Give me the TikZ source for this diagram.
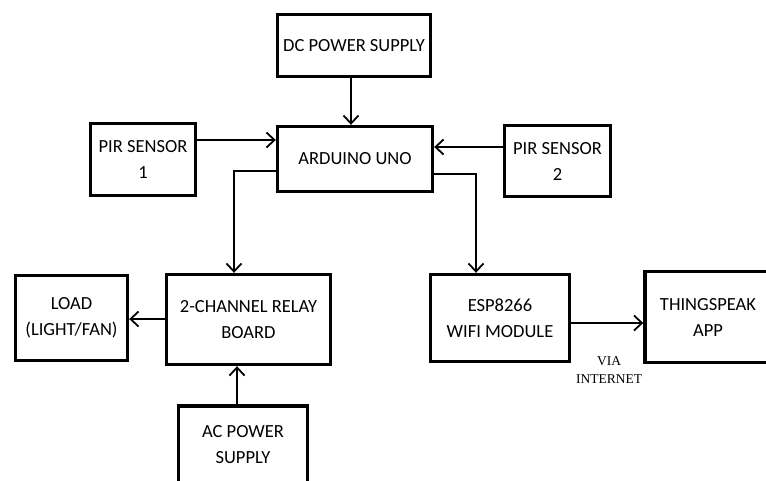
\documentclass[tikz,border=0pt]{standalone}
\usepackage{fontspec}
\setmainfont{Carlito}
\newfontfamily\viafont{Liberation Serif}
\usetikzlibrary{arrows.meta}
\begin{document}
\begin{tikzpicture}[x=1pt,y=-1pt,
  blk/.style={draw, line width=3.4pt, align=center, inner sep=0pt,
    font=\fontsize{18.5}{26}\selectfont},
  arr/.style={line width=1.8pt, -{Straight Barb[length=8pt,width=15pt]}},
  lnk/.style={line width=1.8pt}]
\useasboundingbox (0,0) rectangle (766,480);
\clip (0,0) rectangle (766,480);
\fill[white] (0,0) rectangle (766,480);
% boxes
\node[blk, minimum width=153pt, minimum height=62pt] (dc) at (354,45.5) {DC POWER SUPPLY};
\node[blk, minimum width=155pt, minimum height=65pt] (ard) at (355,159) {ARDUINO UNO};
\node[blk, minimum width=105pt, minimum height=72pt] (pir1) at (143,159.5) {PIR SENSOR\\1};
\node[blk, minimum width=106pt, minimum height=71pt] (pir2) at (557.5,161) {PIR SENSOR\\2};
\node[blk, minimum width=112pt, minimum height=85pt] (load) at (71.5,318) {LOAD\\(LIGHT/FAN)};
\node[blk, minimum width=164pt, minimum height=90pt] (relay) at (248.5,319.5) {2-CHANNEL RELAY\\BOARD};
\node[blk, minimum width=129pt, minimum height=77pt] (ac) at (243,444.5) {AC POWER\\SUPPLY};
\node[blk, minimum width=139pt, minimum height=87pt] (esp) at (500,318) {ESP8266\\WIFI MODULE};
\node[blk, minimum width=126pt, minimum height=91pt] (ts) at (708,317) {THINGSPEAK\\APP};
% connectors
\draw[arr] (dc.south -| 351,0) -- (ard.north -| 351,0);
\draw[arr] (pir1.east |- 0,140) -- (ard.west |- 0,140);
\draw[arr] (pir2.west |- 0,147) -- (ard.east |- 0,147);
\draw[arr] (ard.west |- 0,171) -| (relay.north -| 234,0);
\draw[arr] (ard.east |- 0,174) -| (esp.north -| 476,0);
\draw[arr] (relay.west |- 0,319) -- (load.east |- 0,319);
\draw[arr] (ac.north -| 237,0) -- (relay.south -| 237,0);
\draw[arr] (esp.east |- 0,323) -- (ts.west |- 0,323);
\node[align=center, inner sep=0pt, font=\viafont\fontsize{13.5}{18}\selectfont] (via) at (609,370) {VIA\\INTERNET};
\end{tikzpicture}
\end{document}
